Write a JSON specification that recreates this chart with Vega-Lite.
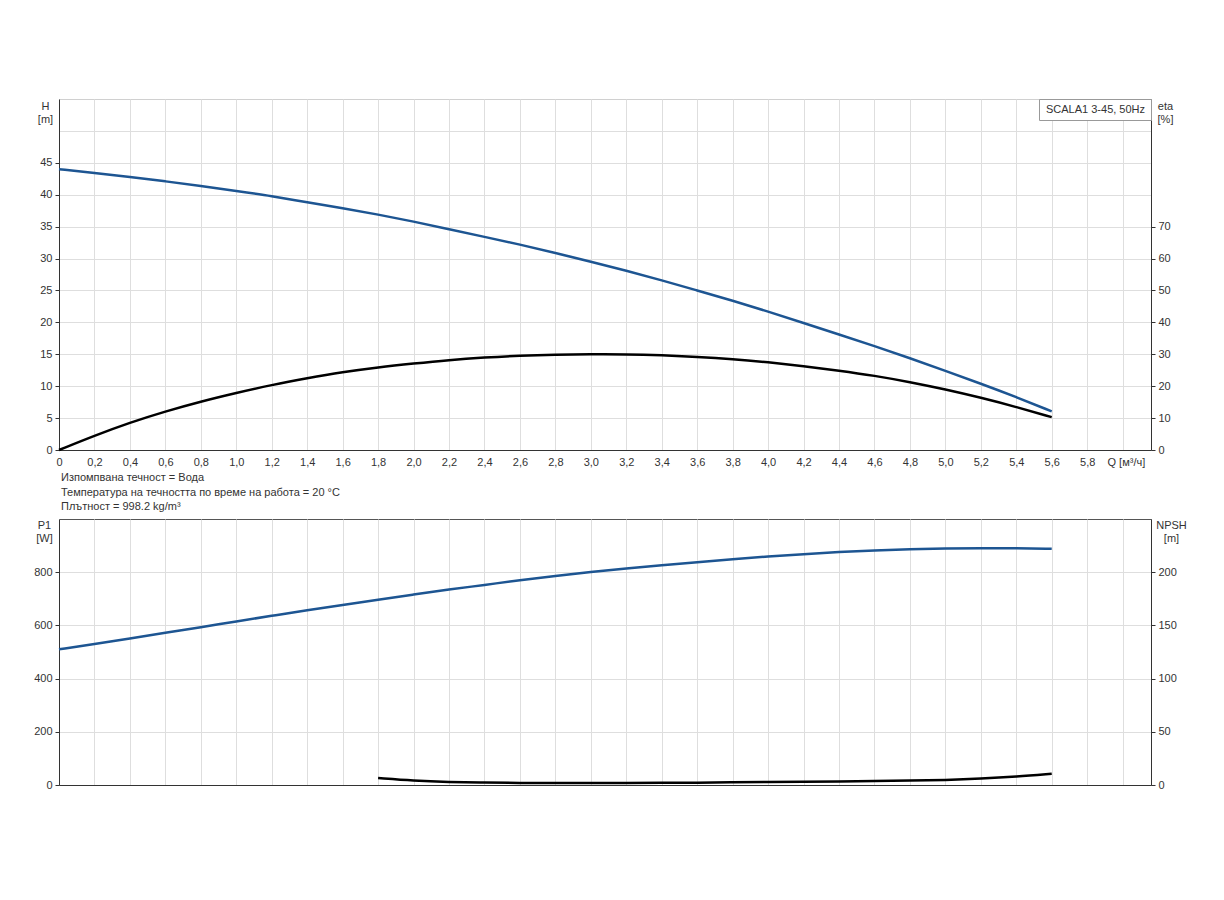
{
  "$schema": "https://vega.github.io/schema/vega-lite/v6.json",
  "background": "white",
  "padding": {"left": 33, "top": 98, "right": 5, "bottom": 5},
  "config": {
    "font": "Liberation Sans",
    "axis": {
      "labelFont": "Liberation Sans",
      "labelFontSize": 11,
      "labelColor": "#333",
      "titleFont": "Liberation Sans",
      "titleFontSize": 11,
      "titleFontWeight": "normal",
      "titleColor": "#333",
      "domainColor": "#333",
      "tickColor": "#333",
      "gridColor": "#dedede",
      "tickSize": 4,
      "labelPadding": 3
    },
    "line": {"strokeWidth": 2.5, "interpolate": "basis"}
  },
  "data": {
    "values": [
      {"Q": 0.0, "H": 44.0, "eta": 0.0, "P1": 510},
      {"Q": 0.2, "H": 43.4, "eta": 4.5, "P1": 530},
      {"Q": 0.4, "H": 42.8, "eta": 8.6, "P1": 551},
      {"Q": 0.6, "H": 42.1, "eta": 12.1, "P1": 572},
      {"Q": 0.8, "H": 41.4, "eta": 15.2, "P1": 593},
      {"Q": 1.0, "H": 40.6, "eta": 17.9, "P1": 615},
      {"Q": 1.2, "H": 39.8, "eta": 20.4, "P1": 636},
      {"Q": 1.4, "H": 38.8, "eta": 22.5, "P1": 657},
      {"Q": 1.6, "H": 37.9, "eta": 24.4, "P1": 677},
      {"Q": 1.8, "H": 36.9, "eta": 25.9, "P1": 697, "NPSH": 6.6},
      {"Q": 2.0, "H": 35.8, "eta": 27.1, "P1": 716, "NPSH": 4.1},
      {"Q": 2.2, "H": 34.6, "eta": 28.2, "P1": 735, "NPSH": 2.8},
      {"Q": 2.4, "H": 33.4, "eta": 29.0, "P1": 752, "NPSH": 2.2},
      {"Q": 2.6, "H": 32.2, "eta": 29.6, "P1": 770, "NPSH": 1.9},
      {"Q": 2.8, "H": 30.9, "eta": 29.9, "P1": 786, "NPSH": 1.9},
      {"Q": 3.0, "H": 29.5, "eta": 30.0, "P1": 801, "NPSH": 1.9},
      {"Q": 3.2, "H": 28.1, "eta": 30.0, "P1": 814, "NPSH": 1.9},
      {"Q": 3.4, "H": 26.6, "eta": 29.7, "P1": 826, "NPSH": 2.0},
      {"Q": 3.6, "H": 25.0, "eta": 29.2, "P1": 838, "NPSH": 2.2},
      {"Q": 3.8, "H": 23.4, "eta": 28.5, "P1": 849, "NPSH": 2.5},
      {"Q": 4.0, "H": 21.7, "eta": 27.5, "P1": 859, "NPSH": 2.8},
      {"Q": 4.2, "H": 19.9, "eta": 26.3, "P1": 868, "NPSH": 3.1},
      {"Q": 4.4, "H": 18.1, "eta": 24.9, "P1": 876, "NPSH": 3.4},
      {"Q": 4.6, "H": 16.3, "eta": 23.3, "P1": 882, "NPSH": 3.7},
      {"Q": 4.8, "H": 14.4, "eta": 21.3, "P1": 886, "NPSH": 4.1},
      {"Q": 5.0, "H": 12.4, "eta": 19.0, "P1": 889, "NPSH": 4.7},
      {"Q": 5.2, "H": 10.4, "eta": 16.4, "P1": 890, "NPSH": 5.9},
      {"Q": 5.4, "H": 8.3, "eta": 13.5, "P1": 890, "NPSH": 7.8},
      {"Q": 5.6, "H": 6.05, "eta": 10.3, "P1": 888, "NPSH": 10.6}
    ]
  },
  "bounds": "flush",
  "spacing": 69,
  "resolve": {"legend": {"color": "independent"}, "scale": {"color": "independent"}},
  "vconcat": [
    {
      "width": 1092,
      "height": 351,
      "view": {"stroke": "#d0d0d0"},
      "encoding": {
        "x": {
          "field": "Q",
          "type": "quantitative",
          "scale": {"domain": [0, 6.16], "nice": false},
          "axis": {
            "values": [0, 0.2, 0.4, 0.6, 0.8, 1.0, 1.2, 1.4, 1.6, 1.8, 2.0, 2.2, 2.4, 2.6, 2.8, 3.0, 3.2, 3.4, 3.6, 3.8, 4.0, 4.2, 4.4, 4.6, 4.8, 5.0, 5.2, 5.4, 5.6, 5.8, 6.0],
            "labelExpr": "datum.value === 0 ? '0' : (datum.value > 5.9 ? '' : replace(format(datum.value, '.1f'), '.', ','))",
            "labelOverlap": false,
            "labelFlush": false,
            "ticks": false,
            "labelPadding": 6,
            "grid": true,
            "title": "Q [м³/ч]",
            "titleX": 1048,
            "titleY": 6,
            "titleAlign": "left",
            "titleBaseline": "top"
          }
        }
      },
      "layer": [
        {
          "mark": {"type": "line"},
          "encoding": {
            "y": {
              "field": "H",
              "type": "quantitative",
              "scale": {"domain": [0, 55], "nice": false},
              "axis": {
                "values": [0, 5, 10, 15, 20, 25, 30, 35, 40, 45, 50],
                "labelExpr": "datum.value > 45 ? '' : datum.label",
                "tickOpacity": {"condition": {"test": "datum.value > 45", "value": 0}, "value": 1},
                "grid": true,
                "title": ["H", "[m]"],
                "titleAngle": 0,
                "titleAlign": "center",
                "titleBaseline": "top",
                "titleLineHeight": 13,
                "titleX": -14,
                "titleY": 1
              }
            },
            "color": {
              "datum": "SCALA1 3-45, 50Hz",
              "scale": {"range": ["#1d5592"]},
              "legend": {
                "orient": "top-right",
                "offset": 0,
                "title": null,
                "symbolType": "square",
                "symbolSize": 1,
                "symbolOpacity": 0,
                "symbolStrokeWidth": 0,
                "labelOffset": -9,
                "labelFont": "Liberation Sans",
                "labelFontSize": 11,
                "labelColor": "#333",
                "strokeColor": "#999",
                "fillColor": "white",
                "padding": 5
              }
            }
          }
        },
        {
          "mark": {"type": "line", "color": "black"},
          "encoding": {
            "y": {
              "field": "eta",
              "type": "quantitative",
              "scale": {"domain": [0, 110], "nice": false},
              "axis": {
                "orient": "right",
                "values": [0, 10, 20, 30, 40, 50, 60, 70],
                "grid": false,
                "title": ["eta", "[%]"],
                "titleAngle": 0,
                "titleAlign": "center",
                "titleBaseline": "top",
                "titleLineHeight": 13,
                "titleX": 14,
                "titleY": 1
              }
            }
          }
        }
      ],
      "resolve": {"scale": {"y": "independent"}}
    },
    {
      "width": 1092,
      "height": 266,
      "view": {"stroke": "#555"},
      "title": {
        "text": ["Изпомпвана течност = Вода", "Температура на течността по време на работа = 20 °C", "Плътност = 998.2 kg/m³"],
        "anchor": "start",
        "frame": "group",
        "offset": 7,
        "dx": 2,
        "font": "Liberation Sans",
        "fontSize": 11,
        "fontWeight": "normal",
        "color": "#333",
        "lineHeight": 14.5
      },
      "encoding": {
        "x": {
          "field": "Q",
          "type": "quantitative",
          "scale": {"domain": [0, 6.16], "nice": false},
          "axis": {
            "values": [0, 0.2, 0.4, 0.6, 0.8, 1.0, 1.2, 1.4, 1.6, 1.8, 2.0, 2.2, 2.4, 2.6, 2.8, 3.0, 3.2, 3.4, 3.6, 3.8, 4.0, 4.2, 4.4, 4.6, 4.8, 5.0, 5.2, 5.4, 5.6, 5.8, 6.0],
            "labels": false,
            "ticks": false,
            "grid": true,
            "title": null
          }
        }
      },
      "layer": [
        {
          "mark": {"type": "line", "color": "#1d5592"},
          "encoding": {
            "y": {
              "field": "P1",
              "type": "quantitative",
              "scale": {"domain": [0, 1000], "nice": false},
              "axis": {
                "values": [0, 200, 400, 600, 800],
                "grid": true,
                "title": ["P1", "[W]"],
                "titleAngle": 0,
                "titleAlign": "center",
                "titleBaseline": "top",
                "titleLineHeight": 13,
                "titleX": -15,
                "titleY": 0
              }
            }
          }
        },
        {
          "mark": {"type": "line", "color": "black"},
          "encoding": {
            "y": {
              "field": "NPSH",
              "type": "quantitative",
              "scale": {"domain": [0, 250], "nice": false},
              "axis": {
                "orient": "right",
                "values": [0, 50, 100, 150, 200],
                "grid": false,
                "title": ["NPSH", "[m]"],
                "titleAngle": 0,
                "titleAlign": "center",
                "titleBaseline": "top",
                "titleLineHeight": 13,
                "titleX": 20,
                "titleY": 0
              }
            }
          }
        }
      ],
      "resolve": {"scale": {"y": "independent"}}
    }
  ]
}
